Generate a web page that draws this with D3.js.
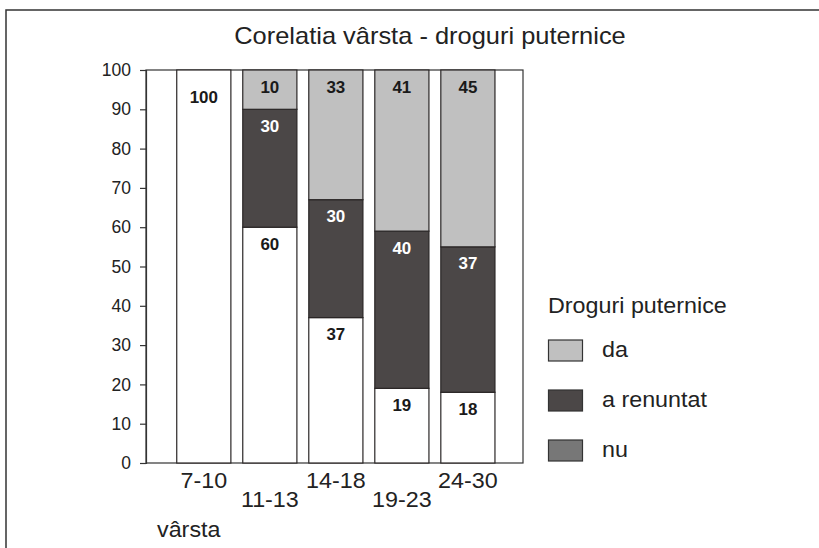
<!DOCTYPE html>
<html>
<head>
<meta charset="utf-8">
<script src="https://cdn.jsdelivr.net/npm/d3@7"></script>
<style>
	body { margin: 0; background: #fff; }
	svg { display: block; font-family: 'Liberation Sans', Arial, sans-serif; }
</style>
</head>
<body>
<svg id="chart" width="819" height="548"></svg>
<script>
// age groups and the three stacked parts (bottom to top)
let groups = ['7-10', '11-13', '14-18', '19-23', '24-30']
let nu = [100, 60, 37, 19, 18]
let renuntat = [0, 30, 30, 40, 37]
let da = [0, 10, 33, 41, 45]
let yTicks = [0, 10, 20, 30, 40, 50, 60, 70, 80, 90, 100]
let legendNames = ['da', 'a renuntat', 'nu']
let legendColors = ['#c0c0c0', '#4b4747', '#777777']

const svg = d3.select('#chart')
const plotL = 146, plotR = 523, plotT = 70, plotB = 463
const stretch = 1.06  // the original type is a bit wider than Liberation Sans

// text with a slight horizontal stretch
function label(parent, px, py, str, size, anchor) {
	return parent.append('text')
		.attr('transform', `translate(${px},${py}) scale(${stretch},1)`)
		.attr('text-anchor', anchor || 'start')
		.attr('font-size', size)
		.attr('fill', '#222')
		.text(str)
}

const x = d3.scaleBand()
	.domain(groups)
	.range([170.8, 500.9])
	.paddingInner(0.18)
	.paddingOuter(0.09)

const y = d3.scaleLinear()
	.domain([0, 100])
	.range([plotB, plotT])

// outer frame (runs off the page on right and bottom)
svg.append('rect')
	.attr('x', 6).attr('y', 10)
	.attr('width', 900).attr('height', 700)
	.attr('fill', 'none')
	.attr('stroke', '#333')
	.attr('stroke-width', 1.5)

label(svg, 430, 44, 'Corelatia vârsta - droguri puternice', 24, 'middle')

// plot box
svg.append('rect')
	.attr('x', plotL).attr('y', plotT)
	.attr('width', plotR - plotL).attr('height', plotB - plotT)
	.attr('fill', 'none')
	.attr('stroke', '#333')
	.attr('stroke-width', 1.2)

// y axis
const yAxis = svg.append('g')
	.attr('transform', `translate(${plotL},0)`)
	.call(d3.axisLeft(y).tickValues(yTicks).tickSize(6).tickPadding(9))
yAxis.select('.domain').attr('stroke', '#333').attr('stroke-width', 1.2)
yAxis.selectAll('.tick line').attr('stroke', '#333').attr('stroke-width', 1.2)
yAxis.selectAll('.tick text')
	.attr('font-size', 17.5)
	.attr('fill', '#222')
	.attr('font-family', "'Liberation Sans', Arial, sans-serif")

// stacked segments
let rows = groups.map((g, i) => ({ group: g, nu: nu[i], renuntat: renuntat[i], da: da[i] }))
let keys = ['nu', 'renuntat', 'da']
let fills = { nu: '#ffffff', renuntat: '#4b4747', da: '#c0c0c0' }
let textFill = { nu: '#1a1a1a', renuntat: '#ffffff', da: '#1a1a1a' }
let stacked = d3.stack().keys(keys)(rows)

stacked.forEach(layer => {
	let g = svg.append('g')
	layer.forEach(d => {
		if (d[1] - d[0] <= 0) return
		g.append('rect')
			.attr('x', x(d.data.group))
			.attr('y', y(d[1]))
			.attr('width', x.bandwidth())
			.attr('height', y(d[0]) - y(d[1]))
			.attr('fill', fills[layer.key])
			.attr('stroke', '#2a2626')
			.attr('stroke-width', 1.2)
		let cx = x(d.data.group) + x.bandwidth() / 2
		let cy = y(d[1]) + (d[1] - d[0] == 100 ? 32.5 : 22.5)
		label(g, cx, cy, d.data[layer.key], 16, 'middle')
			.attr('font-weight', 'bold')
			.attr('fill', textFill[layer.key])
	})
})

// x labels, staggered
let xg = svg.append('g')
groups.forEach((grp, i) => {
	label(xg, x(grp) + x.bandwidth() / 2, i % 2 == 0 ? 488 : 507, grp, 22, 'middle')
})

label(svg, 157, 537, 'vârsta', 22)

// legend
const legend = svg.append('g')
label(legend, 548, 313, 'Droguri puternice', 22)

legendNames.forEach((name, i) => {
	legend.append('rect')
		.attr('x', 548.5).attr('y', 340 + i * 50)
		.attr('width', 34).attr('height', 21)
		.attr('fill', legendColors[i])
		.attr('stroke', '#333')
		.attr('stroke-width', 1.2)
	label(legend, 602, 357 + i * 50, name, 22)
})
</script>
</body>
</html>
